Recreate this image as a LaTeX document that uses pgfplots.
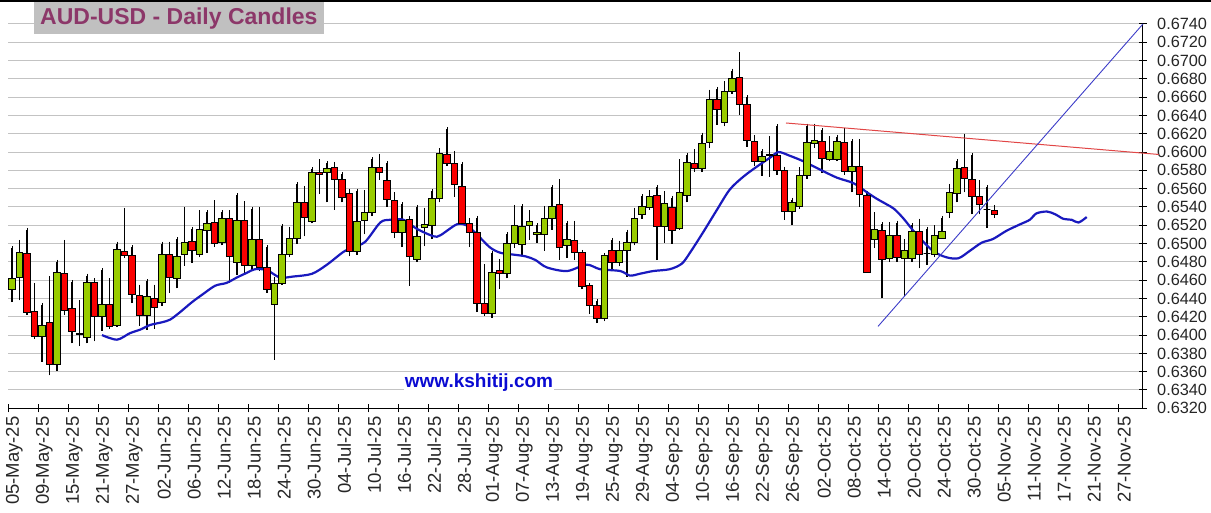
\documentclass[border=0pt]{standalone}
\usepackage{fontspec}
\setmainfont{Liberation Sans}
\usepackage{pgfplots}
\usepackage{pgfplotstable}
\pgfplotsset{compat=1.18}
\definecolor{cgreen}{RGB}{153,204,0}
\definecolor{cred}{RGB}{250,0,0}
\definecolor{macol}{RGB}{25,25,190}
\definecolor{ttl}{RGB}{140,55,105}
\definecolor{ttlbg}{RGB}{192,192,192}
\definecolor{gridc}{RGB}{195,195,195}
\definecolor{wwwc}{RGB}{10,10,210}
\definecolor{trred}{RGB}{225,70,70}
\definecolor{trblue}{RGB}{60,60,200}

\pgfplotstableread{
x o h l c
0 .6450 .6495 .6436 .6462
1 .64625 .6502 .6438 .6490
2 .6489 .6515 .6422 .6425
3 .6426 .6455 .6396 .6399
4 .6399 .6433 .6371 .6411
5 .6414 .6462 .6356 .6368
6 .6368 .6480 .6361 .6468
7 .6467 .6502 .6422 .6427
8 .6429 .6458 .6391 .6404
9 .6402 .6436 .6388 .6401
10 .6397 .6465 .6391 .6457
11 .6457 .6460 .6393 .6420
12 .6420 .6471 .6405 .6433
13 .6433 .6460 .6407 .6409
14 .6410 .6500 .6409 .6494
15 .6491 .6537 .6484 .6487
16 .6487 .6496 .6435 .6444
17 .6443 .6453 .6410 .6421
18 .6421 .6459 .6406 .6442
19 .6440 .6453 .6407 .6430
20 .6436 .6500 .6432 .6488
21 .6488 .6500 .6446 .6463
22 .6462 .6505 .6451 .6486
23 .6488 .6538 .6476 .6501
24 .6502 .6516 .6479 .6492
25 .6488 .6534 .6485 .6515
26 .6514 .6534 .6490 .6522
27 .6523 .6545 .6496 .6500
28 .6501 .6534 .6498 .6528
29 .6528 .6534 .6457 .6486
30 .6479 .6553 .6466 .6525
31 .6525 .6544 .6466 .6476
32 .6476 .6538 .6470 .6505
33 .6505 .6538 .6470 .6474
34 .6474 .6496 .6446 .6450
35 .6433 .6461 .6373 .6456
36 .6456 .6519 .6455 .6488
37 .6488 .6516 .6485 .6506
38 .6506 .6565 .6500 .6545
39 .6545 .6561 .6508 .6529
40 .6524 .6581 .6522 .6578
41 .6578 .6590 .6554 .6576
42 .6578 .6588 .6545 .6582
43 .6583 .6587 .6537 .6570
44 .6570 .6576 .6545 .6550
45 .6555 .6558 .6486 .6491
46 .6491 .6558 .6488 .6524
47 .6525 .6556 .6510 .6534
48 .6534 .6592 .6530 .6583
49 .6583 .6596 .6570 .6578
50 .6569 .6588 .6540 .6548
51 .6547 .6554 .6506 .6512
52 .6512 .6543 .6496 .6525
53 .6526 .6528 .6454 .6486
54 .6483 .6540 .6480 .6508
55 .6518 .6537 .6497 .6521
56 .6520 .6558 .6505 .6549
57 .6549 .6602 .6545 .6598
58 .6597 .6625 .6585 .6588
59 .6588 .6599 .6551 .6565
60 .6562 .6587 .6520 .6522
61 .6522 .6526 .6496 .6512
62 .6512 .6528 .6425 .6435
63 .6435 .6475 .6421 .6424
64 .6424 .6490 .6419 .6468
65 .6471 .6481 .6450 .6467
66 .6467 .6510 .6462 .6500
67 .6500 .6540 .6495 .6520
68 .6499 .6541 .6488 .6519
69 .6520 .6534 .6504 .6524
70 .6510 .6520 .6501 .6512
71 .6510 .6539 .6492 .6527
72 .6527 .6562 .6515 .6541
73 .6543 .6568 .6482 .6496
74 .6498 .6523 .6484 .6504
75 .6503 .6523 .6482 .6490
76 .6490 .6491 .6450 .6453
77 .6454 .6455 .6423 .6432
78 .6432 .6437 .6413 .6418
79 .6418 .6487 .6415 .6487
80 .6493 .6504 .6471 .6479
81 .6479 .6501 .6475 .6492
82 .6492 .6513 .6464 .6501
83 .6501 .6537 .6498 .6528
84 .6532 .6552 .6527 .6541
85 .6539 .6556 .6537 .6552
86 .6553 .6562 .6482 .6519
87 .6519 .6555 .6501 .6544
88 .6539 .6550 .6500 .6514
89 .6517 .6590 .6515 .6556
90 .6553 .6597 .6545 .6589
91 .6588 .6601 .6578 .6582
92 .6582 .6619 .6578 .6609
93 .6610 .6666 .6605 .6658
94 .6658 .6669 .6630 .6647
95 .6632 .6675 .6628 .6666
96 .6666 .6689 .6664 .6681
97 .6682 .6707 .6641 .6652
98 .6652 .6660 .6606 .6613
99 .6612 .6616 .6585 .6590
100 .6590 .6601 .6574 .6595
101 .6597 .6615 .6573 .6596
102 .6596 .6628 .6575 .6580
103 .6580 .6582 .6526 .6535
104 .6535 .6548 .6520 .6545
105 .6541 .6581 .6538 .6574
106 .6574 .6629 .6571 .6611
107 .6609 .6629 .6605 .6613
108 .6612 .6624 .6577 .6593
109 .6592 .6615 .6590 .6601
110 .6592 .6617 .6590 .6612
111 .6610 .6624 .6575 .6579
112 .6579 .6612 .6556 .6584
113 .6584 .6612 .6540 .6554
114 .6553 .6555 .6468 .6468
115 .6505 .6532 .6495 .6515
116 .6514 .6521 .6440 .6483
117 .6484 .6521 .6480 .6509
118 .6509 .6523 .6480 .6485
119 .6484 .6503 .6443 .6493
120 .6484 .6520 .6480 .6513
121 .6513 .6525 .6473 .6488
122 .6489 .6516 .6477 .6489
123 .6488 .6518 .6485 .6509
124 .6506 .6528 .6505 .6513
125 .6534 .6563 .6528 .6556
126 .6555 .6590 .6545 .6582
127 .6583 .6618 .6556 .6571
128 .6570 .6597 .6532 .6552
129 .6551 .6567 .6532 .6543
130 .6537 .6562 .6517 .6537
131 .6536 .6540 .6528 .6532
}\ohlc

\pgfplotstableread{
x ma
12.0 .6400
14.0 .6395
15.7 .6402
17.1 .6406
18.4 .6411
20.0 .6414
21.1 .6417
22.4 .6425
24.0 .6436
25.5 .6445
27.1 .6454
28.6 .6457
30.0 .6463
31.3 .6468
32.4 .6472
34.0 .6471
35.7 .6463
37.5 .6464
40.0 .6467
42.0 .6477
44.2 .6491
45.5 .6496
47.1 .6502
49.1 .6523
50.4 .6526
52.2 .6526
54.0 .6516
56.2 .6508
57.1 .6509
59.3 .6521
60.6 .6520
62.0 .6510
63.7 .6496
65.1 .6490
66.8 .6488
68.5 .6486
69.8 .6482
71.3 .6474
74.0 .6470
76.6 .6477
78.4 .6472
81.1 .6470
82.4 .6465
83.7 .6467
85.5 .6470
87.7 .6472
89.3 .6478
90.4 .6490
92.2 .6513
94.0 .6537
95.7 .6559
97.5 .6573
99.3 .6584
101.1 .6594
102.2 .6600
103.7 .6596
105.5 .6590
107.7 .6581
110.0 .6572
112.2 .6566
114.0 .6556
115.3 .6549
116.6 .6543
117.6 .6538
118.8 .6528
120.6 .6510
122.8 .6492
124.6 .6485
126.2 .6484
127.7 .6492
129.3 .6501
130.8 .6505
132.6 .6514
134.4 .6521
135.7 .6526
136.6 .6533
138.0 .6535
139.1 .6532
140.2 .6527
141.3 .6526
142.2 .6523
143.3 .6529
}\matab

\pgfdeclareplotmark{candle}{%
  \pgfpathrectangle{\pgfpoint{-3.4pt}{0pt}}{\pgfpoint{6.8pt}{\candleh pt}}%
  \pgfusepathqfillstroke}

\begin{document}
\begin{tikzpicture}
\useasboundingbox (-8.25pt,-104.7pt) rectangle (1202.75pt,408.3pt);
\begin{axis}[
  at={(0pt,0pt)}, anchor=south west,
  scale only axis, width=1134.75pt, height=408.3pt,
  xmin=-0.5, xmax=150.8, ymin=0.6320, ymax=0.67662,
  axis x line*=bottom, axis y line*=right,
  x axis line style={line width=1pt},
  y axis line style={draw=none},
  ytick={0.632,0.634,0.636,0.638,0.640,0.642,0.644,0.646,0.648,0.650,0.652,0.654,0.656,0.658,0.660,0.662,0.664,0.666,0.668,0.670,0.672,0.674},
  yticklabel={\pgfmathprintnumber[fixed,fixed zerofill,precision=4,assume math mode=true]{\tick}},
  ymajorgrids, major grid style={draw=gridc, line width=1pt},
  tick align=center, major tick length=8pt,
  tick style={black, line width=1pt},
  xtick={-0.5,3.5,...,147.5},
  xticklabels={05-May-25,09-May-25,15-May-25,21-May-25,27-May-25,02-Jun-25,06-Jun-25,12-Jun-25,18-Jun-25,24-Jun-25,30-Jun-25,04-Jul-25,10-Jul-25,16-Jul-25,22-Jul-25,28-Jul-25,01-Aug-25,07-Aug-25,13-Aug-25,19-Aug-25,25-Aug-25,29-Aug-25,04-Sep-25,10-Sep-25,16-Sep-25,22-Sep-25,26-Sep-25,02-Oct-25,08-Oct-25,14-Oct-25,20-Oct-25,24-Oct-25,30-Oct-25,05-Nov-25,11-Nov-25,17-Nov-25,21-Nov-25,27-Nov-25},
  xticklabel style={rotate=90, anchor=east, font=\fontsize{18.5}{18.5}\selectfont, color=black!85, inner sep=0pt, yshift=-6pt, xshift=-4pt},
  yticklabel style={font=\fontsize{16.3}{16.3}\selectfont, anchor=west, color=black!85, inner sep=0pt, xshift=10pt},
  clip=false,
  colormap={candle}{color=(cred) color=(cgreen)},
  point meta min=0, point meta max=1,
]
\draw[black, line width=1pt] (axis cs:150.8,0.6320) -- (axis cs:150.8,0.6740);
\addplot[draw=none, no markers,
  error bars/.cd, y dir=plus, y explicit,
  error mark options={draw=none},
  error bar style={line width=1.2pt, black}]
  table[x=x, y=l, y error expr=\thisrow{h}-\thisrow{l}]{\ohlc};
\addplot[scatter, only marks, mark=candle, line width=0.9pt,
  point meta=explicit,
  scatter/use mapped color={draw=black, fill=mapped color},
  visualization depends on={9150.6*(\thisrow{c}-\thisrow{o}) \as \candleh}]
  table[x=x, y=o, meta expr={\thisrow{c}>=\thisrow{o}}]{\ohlc};
\addplot[macol, line width=2.2pt, smooth, tension=0.5] table[x=x, y=ma]{\matab};
\addplot[trred, line width=1pt] coordinates {(103.2,0.66318) (152.9,0.65974)};
\addplot[trblue, line width=0.9pt] coordinates {(115.47,0.64095) (150.8,0.6740)};
\end{axis}
\draw[black, line width=2pt] (-8.25pt,407.3pt) -- (1202.75pt,407.3pt);
\node[fill=ttlbg, text=ttl, font=\bfseries\fontsize{23}{23}\selectfont, inner xsep=6pt, minimum height=32pt, anchor=north west] at (25.75pt,406.3pt) {AUD-USD - Daily Candles};
\node[fill=white, text=wwwc, font=\bfseries\fontsize{19}{19}\selectfont, inner sep=1pt] at (470.75pt,25.3pt) {www.kshitij.com};
\end{tikzpicture}
\end{document}
